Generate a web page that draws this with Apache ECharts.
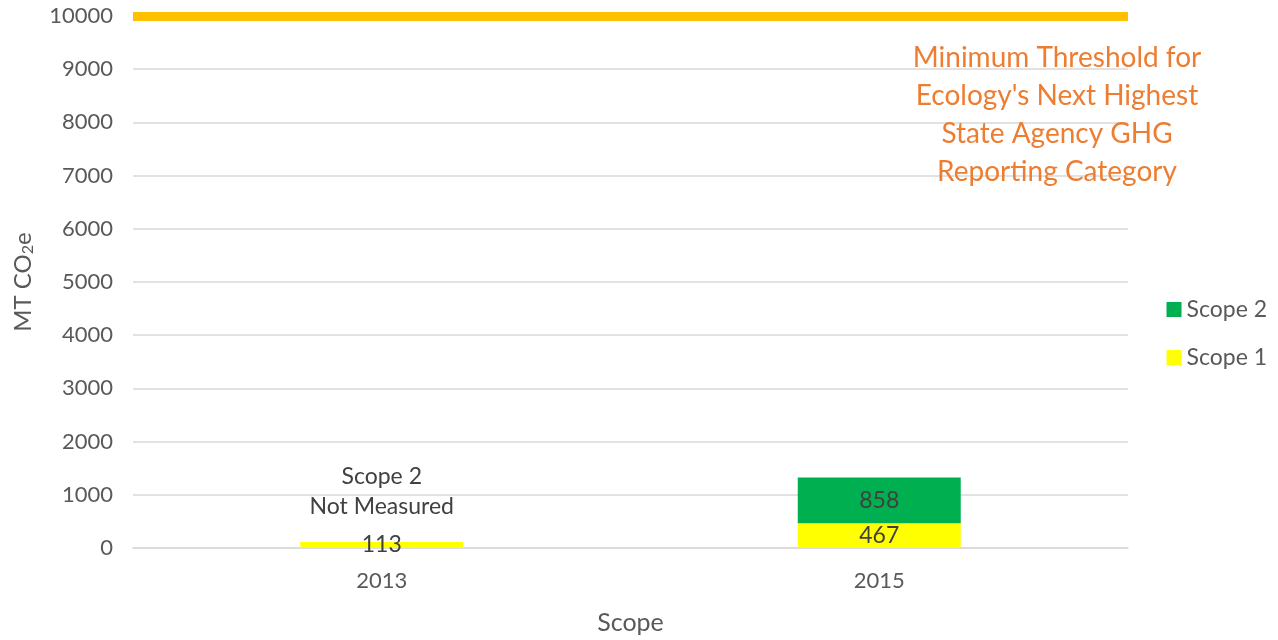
<!DOCTYPE html>
<html>
<head>
<meta charset="utf-8">
<script src="https://cdn.jsdelivr.net/npm/echarts@6/dist/echarts.min.js"></script>
<style>
  html, body { margin: 0; padding: 0; background: #fff; }
  #main { width: 1278px; height: 640px; }
</style>
</head>
<body>
<div id="main"></div>
<script>
// 数据
var years = ['2013', '2015'];
var scope1 = [113, 467];
var scope2 = [null, 858];
var threshold = 10000;
var yTicks = [0, 10000, 1000]; // min, max, interval
var noteLines = ['Minimum Threshold for', "Ecology's Next Highest", 'State Agency GHG', 'Reporting Category'];

var FONT = 'Lato, "Open Sans", sans-serif';
var chart = echarts.init(document.getElementById('main'));

var option = {
    animation: false,
    textStyle: { fontFamily: FONT },
    grid: { left: 133, right: 150, top: 16, bottom: 92, outerBoundsMode: 'none' },
    legend: {
        orient: 'vertical',
        right: 6,
        top: 293,
        itemGap: 25,
        itemWidth: 15,
        itemHeight: 15,
        icon: 'rect',
        textStyle: { fontSize: 23, color: '#595959', fontFamily: FONT },
        data: ['Scope 2', 'Scope 1']
    },
    xAxis: {
        type: 'category',
        data: years,
        name: 'Scope',
        nameLocation: 'middle',
        nameGap: 62,
        nameTextStyle: { fontSize: 25, color: '#595959', fontFamily: FONT },
        axisLine: { lineStyle: { color: '#d9d9d9', width: 1.5 } },
        axisTick: { show: false },
        axisLabel: { fontSize: 22, color: '#595959', margin: 22 }
    },
    yAxis: {
        type: 'value',
        min: yTicks[0],
        max: yTicks[1],
        interval: yTicks[2],
        name: 'MT CO{sub|2}e',
        nameLocation: 'middle',
        nameRotate: 90,
        nameGap: 97,
        nameTextStyle: {
            fontSize: 24, color: '#595959', fontFamily: FONT,
            rich: { sub: { fontSize: 16, color: '#595959', verticalAlign: 'bottom', padding: [10, 0, 0, 0] } }
        },
        axisLine: { show: false },
        axisTick: { show: false },
        axisLabel: {
            fontSize: 22, color: '#595959', margin: 20,
            formatter: function (v) { return String(v); }
        },
        splitLine: { lineStyle: { color: '#d9d9d9', width: 1.5 } }
    },
    series: [
        {
            name: 'Scope 1',
            type: 'bar',
            stack: 'total',
            barWidth: 163,
            data: scope1,
            itemStyle: { color: '#ffff00' },
            label: { show: true, position: 'inside', fontSize: 23, color: '#404040' },
            markLine: {
                silent: true,
                symbol: 'none',
                label: { show: false },
                lineStyle: { color: '#ffc000', width: 9, type: 'solid' },
                data: [{ yAxis: threshold }]
            }
        },
        {
            name: 'Scope 2',
            type: 'bar',
            stack: 'total',
            barWidth: 163,
            data: scope2,
            itemStyle: { color: '#00b050' },
            label: { show: true, position: 'inside', fontSize: 23, color: '#404040' }
        }
    ]
};
chart.setOption(option);

// 注释文字
var p = chart.convertToPixel({ gridIndex: 0 }, [years[0], 0]);
chart.setOption({
    graphic: [
        {
            type: 'text',
            x: 1057,
            y: 39,
            style: {
                text: noteLines.join('\n'),
                align: 'center',
                fill: '#ed7d31',
                font: '28px ' + FONT,
                lineHeight: 38
            }
        },
        {
            type: 'text',
            x: p[0],
            y: p[1] - 86,
            style: {
                text: 'Scope 2\nNot Measured',
                align: 'center',
                fill: '#404040',
                font: '23px ' + FONT,
                lineHeight: 30
            }
        }
    ]
});
</script>
</body>
</html>
